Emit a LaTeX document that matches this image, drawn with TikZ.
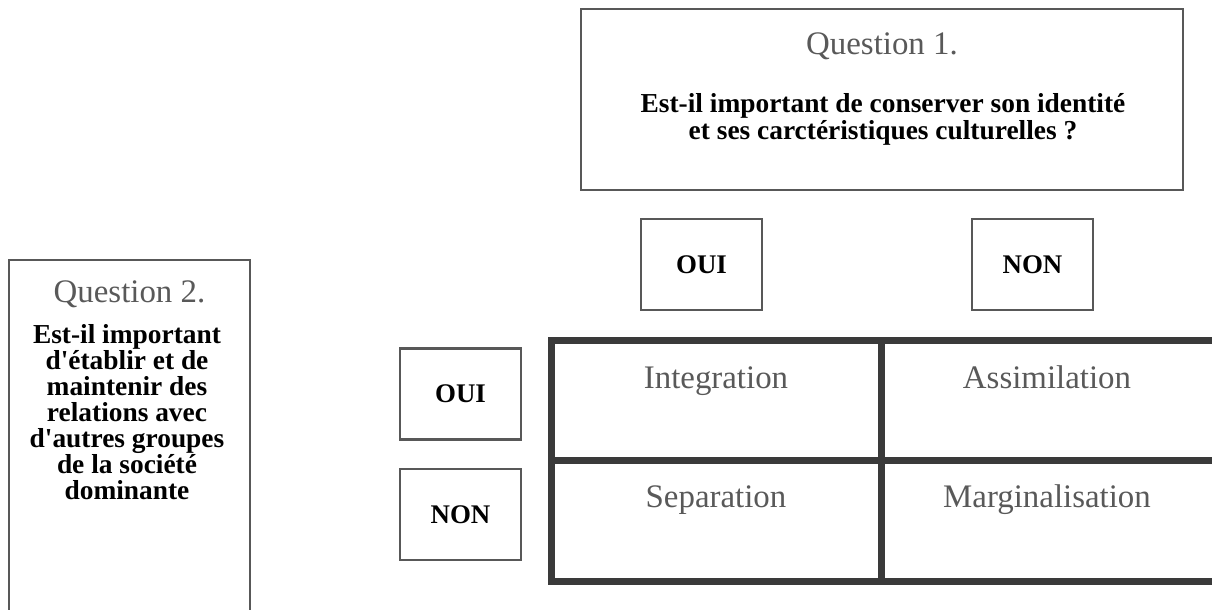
\documentclass[tikz,border=0pt]{standalone}
\usepackage{fontspec}
\setmainfont{Liberation Serif}
\definecolor{boxgray}{HTML}{585858}
\definecolor{gridgray}{HTML}{3A3A3A}
\definecolor{txtgray}{HTML}{595959}
\tikzset{
  thinbox/.style={draw=boxgray, line width=2.5bp, inner sep=0pt, fill=none},
  answerbox/.style={thinbox, minimum width=121bp, minimum height=91bp,
    font=\fontsize{27}{27}\selectfont\bfseries},
  titletxt/.style={anchor=base, text=txtgray, inner sep=0pt, font=\fontsize{33}{33}\selectfont},
  celltxt/.style={anchor=base, text=txtgray, inner sep=0pt, font=\fontsize{33}{33}\selectfont},
  qtxt/.style={anchor=base, inner sep=0pt, align=center},
  gridline/.style={draw=gridgray, line width=7bp},
}
\newcommand{\apos}{\textquotesingle}
\begin{document}
\begin{tikzpicture}[x=1bp,y=-1bp]
\useasboundingbox (0,0) rectangle (1212,610);
% Question 1
\node[thinbox, minimum width=602bp, minimum height=181bp] (q1) at (882,99.5) {};
\node[titletxt] (q1t) at (882,55) {Question 1.};
\node[qtxt, font=\fontsize{27.5}{28}\selectfont\bfseries] (q1b) at (883,140)
  {Est-il important de conserver son identité\\et ses carctéristiques culturelles ?};
% Question 2
\draw[boxgray, line width=2.5bp] (9,640) -- (9,260) -- (250,260) -- (250,640);
\coordinate (q2) at (129.5,260);
\node[titletxt] (q2t) at (129.5,303) {Question 2.};
\node[qtxt, font=\fontsize{27.5}{26}\selectfont\bfseries] (q2b) at (127,499)
  {Est-il important\\d\apos établir et de\\maintenir des\\relations avec\\d\apos autres groupes\\de la société\\dominante};
% answer boxes
\node[answerbox] (oui1) at (701.5,264.5) {OUI};
\node[answerbox] (non1) at (1032.5,264.5) {NON};
\node[answerbox] (oui2) at (460.5,394) {OUI};
\node[answerbox] (non2) at (460.5,514.5) {NON};
% grid
\draw[gridline] (551,340) rectangle (1218,581);
\draw[gridline] (881.5,340) -- (881.5,581);
\draw[gridline] (551,460) -- (1218,460);
\node[celltxt] (integ) at (716,388) {Integration};
\node[celltxt] (assim) at (1047,388) {Assimilation};
\node[celltxt] (separ) at (716,507) {Separation};
\node[celltxt] (margi) at (1047,507) {Marginalisation};
\end{tikzpicture}
\end{document}
